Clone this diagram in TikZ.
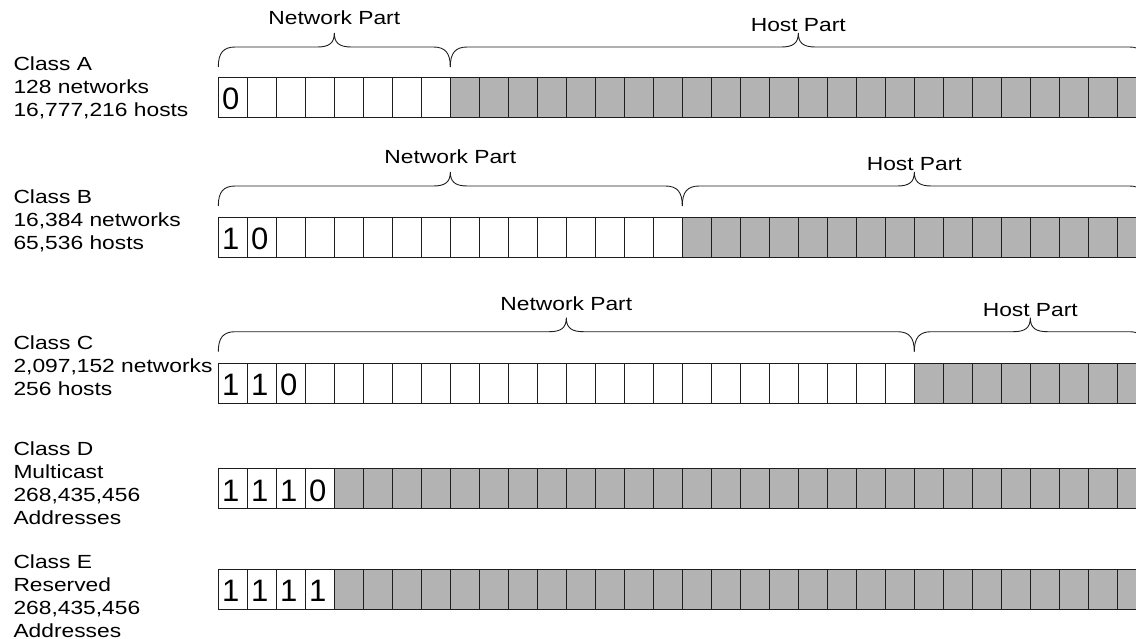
\documentclass[tikz,border=0pt]{standalone}
\usepackage{fontspec}
\setmainfont[FakeStretch=1.2]{Liberation Sans}
\newfontfamily\bitfont{Liberation Sans}
\definecolor{hostgray}{HTML}{B3B3B3}
\definecolor{inkline}{HTML}{1E1E1E}
\newcommand{\ipbrace}[3]{%
  \pgfmathsetmacro\bm{(#1+#2)/2}%
  \draw[bracestyle] ({#1},{#3+20}) .. controls ({#1},{#3+6}) and ({#1+5},{#3}) .. ({#1+17},{#3})
    -- ({\bm-17},{#3}) .. controls ({\bm-5},{#3}) and ({\bm},{#3-4}) .. ({\bm},{#3-14})
    .. controls ({\bm},{#3-4}) and ({\bm+5},{#3}) .. ({\bm+17},{#3})
    -- ({#2-17},{#3}) .. controls ({#2-5},{#3}) and ({#2},{#3+6}) .. ({#2},{#3+20});
}
\begin{document}
\begin{tikzpicture}[x=1pt,y=-1pt,
  cell/.style={draw=inkline, line width=0.9pt, minimum width=29pt, minimum height=40pt,
    inner sep=0pt, anchor=north west},
  netcell/.style={cell, fill=white},
  hostcell/.style={cell, fill=hostgray},
  digit/.style={inner sep=0pt, anchor=base, font=\bitfont\fontsize{31}{31}\selectfont},
  lbl/.style={anchor=base west, align=left, inner sep=0pt, font=\fontsize{19}{23}\selectfont},
  part/.style={anchor=base, inner sep=0pt, font=\fontsize{19}{22}\selectfont},
  bracestyle/.style={draw=inkline, line width=0.9pt}]
\useasboundingbox (0,0) rectangle (1136,639);

% rows of 32 bits
\foreach \r/\top/\nb/\digs in {A/77.3/8/{0}, B/216.7/16/{1,0}, C/362.7/24/{1,1,0}, D/468.3/4/{1,1,1,0}, E/569/4/{1,1,1,1}} {
  \foreach \i in {0,...,31} {
    \ifnum\i<\nb
      \node[netcell] (\r-\i) at ({218.3+29*\i},\top) {};
    \else
      \node[hostcell] (\r-\i) at ({218.3+29*\i},\top) {};
    \fi
  }
  \foreach \d [count=\k from 0] in \digs {
    \node[digit] (dig-\r-\k) at ({218.3+29*\k+12.5},{\top+32.7}) {\d};
  }
}

% class labels (anchored at the baseline of the last line)
\node[lbl] (labA) at (13.3,116.7) {Class A\\128 networks\\16,777,216 hosts};
\node[lbl] (labB) at (13.3,250) {Class B\\16,384 networks\\65,536 hosts};
\node[lbl] (labC) at (13.3,395) {Class C\\2,097,152 networks\\256 hosts};
\node[lbl] (labD) at (13.3,524.3) {Class D\\Multicast\\268,435,456\\Addresses};
\node[lbl] (labE) at (13.3,637) {Class E\\Reserved\\268,435,456\\Addresses};

% braces
\ipbrace{218.3}{450.3}{47}
\ipbrace{450.3}{1146.3}{47}
\ipbrace{218.3}{682.3}{186}
\ipbrace{682.3}{1146.3}{186}
\ipbrace{218.3}{914.3}{331.7}
\ipbrace{914.3}{1146.3}{331.7}

% part labels
\node[part] (netA) at (334.3,25) {Network Part};
\node[part] (hostA) at (798.3,31.7) {Host Part};
\node[part] (netB) at (450.3,164) {Network Part};
\node[part] (hostB) at (914.3,170.7) {Host Part};
\node[part] (netC) at (566.3,310) {Network Part};
\node[part] (hostC) at (1030.3,316.7) {Host Part};
\end{tikzpicture}
\end{document}
